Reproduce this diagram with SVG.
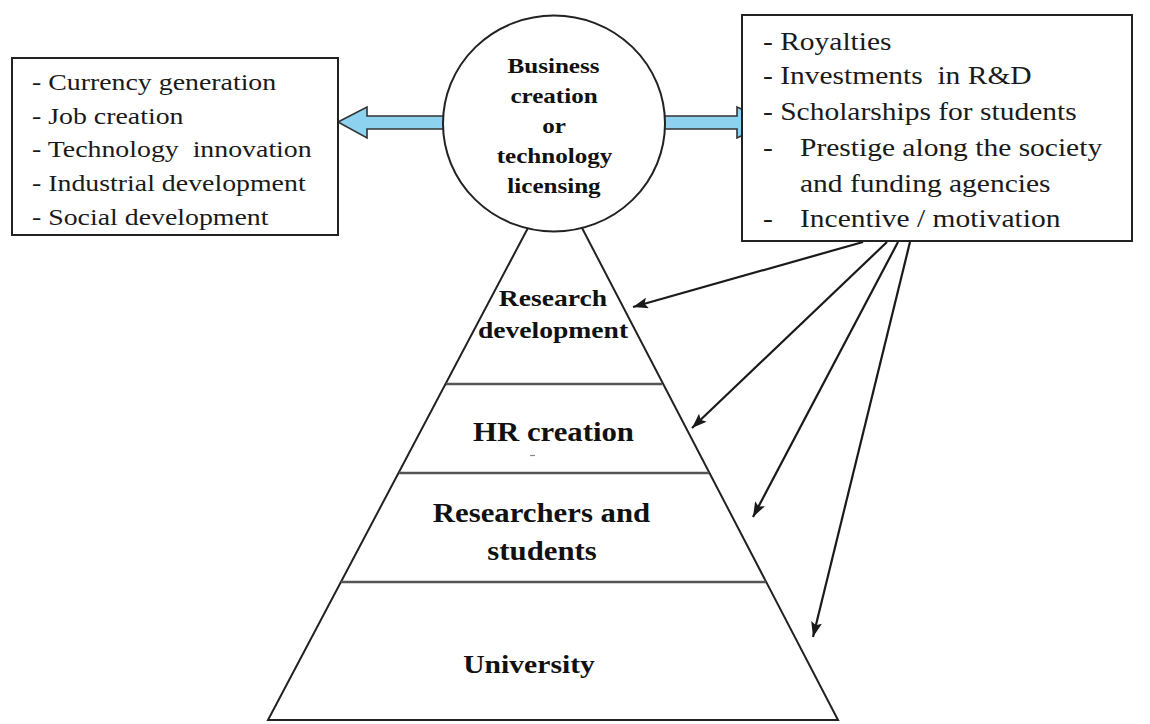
<svg xmlns="http://www.w3.org/2000/svg" width="1150" height="724" viewBox="0 0 1150 724">
  <style>
    .reg { font-family: "Liberation Serif", "Times New Roman", serif; font-size: 24px; fill: #1a1a1a; }
    .regR { font-family: "Liberation Serif", "Times New Roman", serif; font-size: 25px; fill: #1a1a1a; }
    .bold { font-family: "Liberation Serif", "Times New Roman", serif; font-weight: bold; fill: #111; text-anchor: middle; }
    .box { fill: #fff; stroke: #222; stroke-width: 2; }
    .side { fill: none; stroke: #222; stroke-width: 2; }
    .div { stroke: #555; stroke-width: 2.5; }
    .blk { fill: #8dd3f0; stroke: #333; stroke-width: 1.6; stroke-linejoin: miter; }
    .conn { fill: none; stroke: #1a1a1a; stroke-width: 2.2; marker-end: url(#ah); }
  </style>
  <defs>
    <marker id="ah" markerUnits="userSpaceOnUse" markerWidth="15" markerHeight="11" refX="15" refY="5.5" orient="auto">
      <path d="M0,0 L15,5.5 L0,11 L3,5.5 z" fill="#1a1a1a"/>
    </marker>
  </defs>
  <rect width="1150" height="724" fill="#fff"/>

  <g id="connectors">
    <polygon class="blk" points="338,122 367,107 367,116 446,116 446,129 367,129 367,138"/>
    <polygon class="blk" points="660,116 737,116 737,107 770,122 737,138 737,129 660,129"/>
    <path class="conn" d="M863,242 L633,307"/>
    <path class="conn" d="M887,242 L692,428"/>
    <path class="conn" d="M898,242 L753,517"/>
    <path class="conn" d="M910,242 L813,637"/>
  </g>

  <g id="pyramid">
    <polyline class="side" points="529,226 268,720 838,720 581,226"/>
    <line class="div" x1="446" y1="384" x2="662" y2="384"/>
    <line class="div" x1="399" y1="473" x2="709" y2="473"/>
    <line class="div" x1="341" y1="582" x2="766" y2="582"/>
  </g>

  <g id="level-research-development">
    <text class="bold" font-size="24" transform="translate(553,306) scale(1.15,1)">Research</text>
    <text class="bold" font-size="24" transform="translate(553,338) scale(1.15,1)">development</text>
  </g>
  <g id="level-hr-creation">
    <text class="bold" font-size="27" transform="translate(553.5,441) scale(1.14,1)">HR creation</text>
    <line x1="530" y1="455.5" x2="535" y2="455.5" stroke="#888" stroke-width="1.2"/>
  </g>
  <g id="level-researchers-students">
    <text class="bold" font-size="27" transform="translate(541.5,522) scale(1.14,1)">Researchers and</text>
    <text class="bold" font-size="27" transform="translate(542,560) scale(1.14,1)">students</text>
  </g>
  <g id="level-university">
    <text class="bold" font-size="26" transform="translate(529,673) scale(1.14,1)">University</text>
  </g>

  <g id="business-circle">
    <ellipse cx="554" cy="123.5" rx="111" ry="108" fill="#fff" stroke="#222" stroke-width="2"/>
    <text class="bold" font-size="22" transform="translate(553.5,73) scale(1.14,1)">Business</text>
    <text class="bold" font-size="22" transform="translate(554,103) scale(1.14,1)">creation</text>
    <text class="bold" font-size="22" transform="translate(554,133) scale(1.14,1)">or</text>
    <text class="bold" font-size="22" transform="translate(554.5,163) scale(1.14,1)">technology</text>
    <text class="bold" font-size="22" transform="translate(554,193) scale(1.14,1)">licensing</text>
  </g>

  <g id="left-box">
    <rect class="box" x="12" y="58" width="326" height="177"/>
    <text class="reg" transform="translate(32,90) scale(1.16,1)">- Currency generation</text>
    <text class="reg" transform="translate(32,124) scale(1.16,1)">- Job creation</text>
    <text class="reg" transform="translate(32,157) scale(1.16,1)" xml:space="preserve">- Technology  innovation</text>
    <text class="reg" transform="translate(32,191) scale(1.16,1)">- Industrial development</text>
    <text class="reg" transform="translate(32,225) scale(1.16,1)">- Social development</text>
  </g>

  <g id="right-box">
    <rect class="box" x="742" y="15" width="390" height="226"/>
    <text class="regR" transform="translate(763,50) scale(1.18,1)">- Royalties</text>
    <text class="regR" transform="translate(763,84) scale(1.18,1)" xml:space="preserve">- Investments  in R&amp;D</text>
    <text class="regR" transform="translate(763,120) scale(1.18,1)">- Scholarships for students</text>
    <text class="regR" transform="translate(763,156) scale(1.18,1)">-</text>
    <text class="regR" transform="translate(800,156) scale(1.18,1)">Prestige along the society</text>
    <text class="regR" transform="translate(800,192) scale(1.18,1)">and funding agencies</text>
    <text class="regR" transform="translate(763,227) scale(1.18,1)">-</text>
    <text class="regR" transform="translate(800,227) scale(1.18,1)">Incentive / motivation</text>
  </g>
</svg>
